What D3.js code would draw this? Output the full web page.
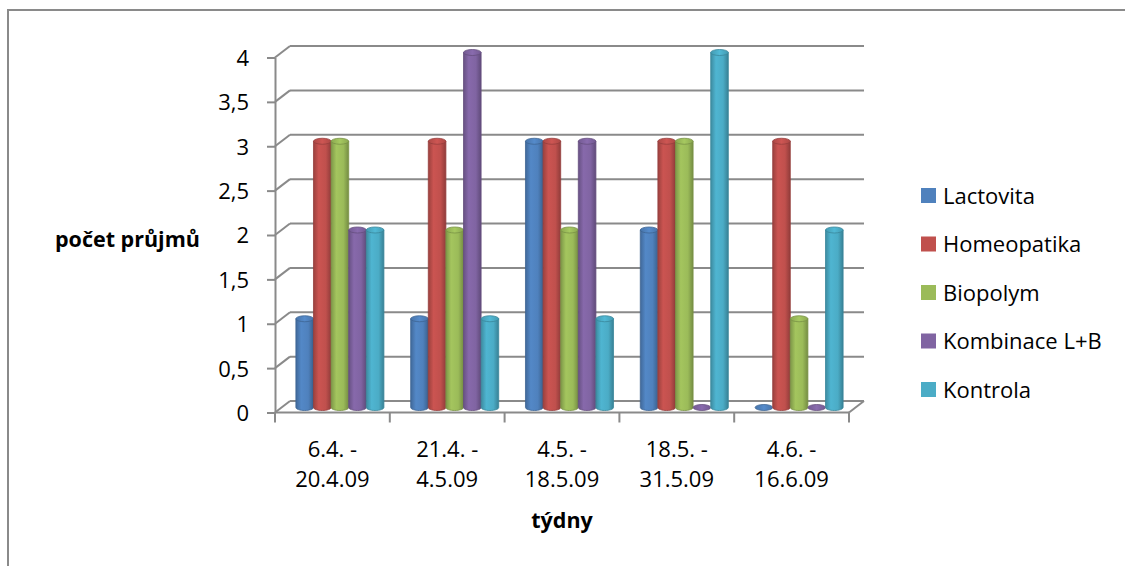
<!DOCTYPE html>
<html>
<head>
<meta charset="utf-8">
<script src="https://cdn.jsdelivr.net/npm/d3@7"></script>
<style>
  html, body { margin: 0; padding: 0; background: #fff; }
  svg { display: block; }
  text { font-family: "Open Sans", "DejaVu Sans", sans-serif; fill: #000; }
</style>
</head>
<body>
<svg id="chart" width="1125" height="566"></svg>
<script>
// Weeks (two-line labels) and number of diarrhoea cases per treatment group
const categories = ["6.4. - 20.4.09", "21.4. - 4.5.09", "4.5. - 18.5.09", "18.5. - 31.5.09", "4.6. - 16.6.09"];
const categoryLines = [["6.4. -", "20.4.09"], ["21.4. -", "4.5.09"], ["4.5. -", "18.5.09"], ["18.5. -", "31.5.09"], ["4.6. -", "16.6.09"]];
const seriesNames = ["Lactovita", "Homeopatika", "Biopolym", "Kombinace L+B", "Kontrola"];
const lactovita   = [1, 1, 3, 2, 0];
const homeopatika = [3, 3, 3, 3, 3];
const biopolym    = [3, 2, 2, 3, 1];
const kombinace   = [2, 4, 3, 0, 0];
const kontrola    = [2, 1, 1, 4, 2];
const yTicks = [0, 0.5, 1, 1.5, 2, 2.5, 3, 3.5, 4];
const seriesValues = [lactovita, homeopatika, biopolym, kombinace, kontrola];
const colors = ["#4F81BD", "#C0504D", "#9BBB59", "#8064A2", "#4BACC6"];

const svg = d3.select("#chart");
const grid = "#8a8a8a";

// Outer chart frame
svg.append("rect").attr("x", 8).attr("y", 10).attr("width", 1130).attr("height", 570)
  .attr("fill", "none").attr("stroke", "#8a8a8a").attr("stroke-width", 2);

// Plot geometry: front plane, back wall offset for the depth effect
const left = 275, right = 849;
const depthX = 15, depthY = -11.5;
const barX = 7.5, barY = -5;

const y = d3.scaleLinear().domain([0, 4]).range([412.5, 57.5]);
const x0 = d3.scaleBand().domain(categories).range([left, right]);
const x1 = d3.scaleBand().domain(seriesNames).range([0, x0.bandwidth()]).paddingOuter(0.76);

// Back-wall gridlines and side-wall diagonals
const gridG = svg.append("g").attr("stroke", grid).attr("stroke-width", 2).attr("fill", "none");
yTicks.forEach(t => {
  gridG.append("line")
    .attr("x1", left + depthX).attr("x2", right + depthX)
    .attr("y1", y(t) + depthY).attr("y2", y(t) + depthY);
  gridG.append("line")
    .attr("x1", left).attr("x2", left + depthX)
    .attr("y1", y(t)).attr("y2", y(t) + depthY);
});
// Floor front edge and right edge
gridG.append("line").attr("x1", left).attr("x2", right).attr("y1", y(0)).attr("y2", y(0));
gridG.append("line").attr("x1", right).attr("x2", right + depthX).attr("y1", y(0)).attr("y2", y(0) + depthY);

// Value axis
const locale = d3.formatLocale({ decimal: ",", thousands: " ", grouping: [3], currency: ["", " Kč"] });
const fmt = locale.format("~g");
const yAxis = d3.axisLeft(y).tickValues(yTicks).tickFormat(fmt).tickSize(8).tickSizeOuter(0).tickPadding(18);
const yg = svg.append("g").attr("transform", `translate(${left},0)`).call(yAxis);
yg.select(".domain").attr("stroke", grid).attr("stroke-width", 2);
yg.selectAll(".tick line").attr("stroke", grid).attr("stroke-width", 2);
yg.selectAll(".tick text").attr("font-size", 22).attr("font-family", "Open Sans").attr("fill", "#000")
  .attr("dy", "0.36em");

// Category axis ticks at band boundaries
const bounds = categories.map(c => x0(c)).concat([right]);
svg.append("g").selectAll("line").data(bounds).join("line")
  .attr("x1", d => d).attr("x2", d => d)
  .attr("y1", y(0)).attr("y2", y(0) + 10)
  .attr("stroke", grid).attr("stroke-width", 2);

// Category labels
const catG = svg.append("g");
categories.forEach((c, i) => {
  const cx = x0(c) + x0.bandwidth() / 2;
  categoryLines[i].forEach((line, k) => {
    catG.append("text").attr("x", cx).attr("y", 457 + k * 30)
      .attr("text-anchor", "middle").attr("font-size", 22).text(line);
  });
});

// Cylinder shading gradients
const defs = svg.append("defs");
colors.forEach((col, i) => {
  const c = d3.color(col);
  const g = defs.append("linearGradient").attr("id", "cyl" + i).attr("x1", 0).attr("x2", 1).attr("y1", 0).attr("y2", 0);
  g.append("stop").attr("offset", "0%").attr("stop-color", c.darker(0.6));
  g.append("stop").attr("offset", "30%").attr("stop-color", c.brighter(0.15));
  g.append("stop").attr("offset", "70%").attr("stop-color", c);
  g.append("stop").attr("offset", "100%").attr("stop-color", c.darker(0.8));
  const t = defs.append("linearGradient").attr("id", "top" + i).attr("x1", 0).attr("x2", 1).attr("y1", 0).attr("y2", 0);
  t.append("stop").attr("offset", "0%").attr("stop-color", c.darker(0.3));
  t.append("stop").attr("offset", "50%").attr("stop-color", c.brighter(0.2));
  t.append("stop").attr("offset", "100%").attr("stop-color", c.darker(0.3));
});

// Cylinders
const ry = 3;
const barsG = svg.append("g");
categories.forEach((c, ci) => {
  seriesNames.forEach((s, si) => {
    const v = seriesValues[si][ci];
    const bx = x0(c) + barX + x1(s);
    const w = x1.bandwidth();
    const rx = w / 2;
    const cx = bx + rx;
    const yb = y(0) + barY;
    const yt = y(v) + barY;
    const col = d3.color(colors[si]);
    const g = barsG.append("g");
    if (v > 0) {
      const p = d3.path();
      p.moveTo(bx, yt);
      p.lineTo(bx, yb);
      // bottom half-ellipse
      const steps = 16;
      for (let k = 0; k <= steps; k++) {
        const a = Math.PI - Math.PI * k / steps;
        p.lineTo(cx + rx * Math.cos(a), yb + ry * Math.sin(a));
      }
      p.lineTo(bx + w, yt);
      p.closePath();
      g.append("path").attr("d", p.toString()).attr("fill", `url(#cyl${si})`)
        .attr("stroke", col.darker(0.7)).attr("stroke-width", 0.8);
    }
    g.append("ellipse").attr("cx", cx).attr("cy", yt).attr("rx", rx).attr("ry", ry)
      .attr("fill", `url(#top${si})`).attr("stroke", col.darker(0.7)).attr("stroke-width", 0.8);
  });
});

// Axis titles
svg.append("text").attr("x", 55).attr("y", 247).attr("font-size", 21.5).attr("font-weight", "bold").text("počet průjmů");
svg.append("text").attr("x", 562).attr("y", 528).attr("text-anchor", "middle").attr("font-size", 21.5).attr("font-weight", "bold").text("týdny");

// Legend
const legend = svg.append("g");
seriesNames.forEach((s, i) => {
  const cy = 195.5 + i * 48.5;
  legend.append("rect").attr("x", 921).attr("y", cy - 7.5).attr("width", 15).attr("height", 15).attr("fill", colors[i]);
  legend.append("text").attr("x", 943).attr("y", cy + 8).attr("font-size", 22).text(s);
});
</script>
</body>
</html>
